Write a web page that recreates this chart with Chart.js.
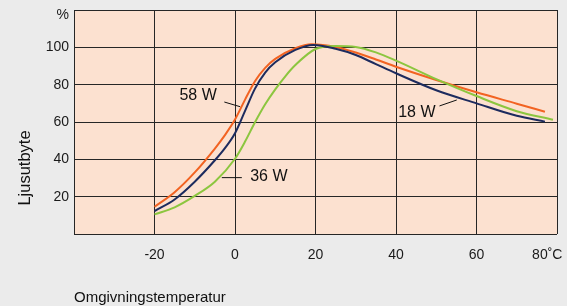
<!DOCTYPE html>
<html><head><meta charset="utf-8">
<script src="https://cdn.jsdelivr.net/npm/chart.js@4.4.1/dist/chart.umd.min.js"></script>
<style>html,body{margin:0;padding:0;background:#ebebeb;overflow:hidden}canvas{display:block}</style>
</head><body>
<canvas id="c" width="567" height="306"></canvas>
<script>
// ---- data ----
const xTicks = [-40, -20, 0, 20, 40, 60, 80];
const xTickLabels = ['', '-20', '0', '20', '40', '60', '80˚C'];
const yTicks = [0, 20, 40, 60, 80, 100, 117, 120];
const yTickLabels = ['', '20', '40', '60', '80', '100', '%', ''];
const xTitle = 'Omgivningstemperatur';
const yTitle = 'Ljusutbyte';

const temps18 = [-20, -15, -10, -5, -2.5, 0, 2.5, 5, 7.5, 10, 15, 19.5, 25, 30, 35, 40, 50, 60, 70, 77];
const vals18  = [12.3, 18.5, 28, 39.5, 46, 54, 66, 78, 86.5, 92, 98.6, 101.3, 99.2, 95.9, 91, 86.1, 77, 70, 63.3, 60.2];

const temps36 = [-20, -15, -10, -5, 0, 2.5, 5, 7.5, 10, 12.5, 15, 20, 25, 30, 35, 40, 50, 60, 70, 79];
const vals36  = [10.5, 14.3, 20.4, 28, 40.3, 49.5, 60, 69.5, 77.5, 84.5, 90.5, 99.1, 100.7, 100.2, 97.3, 92.9, 83, 73.9, 65.8, 61.2];

const temps58 = [-20, -15, -10, -5, -2.5, 0, 2.5, 5, 7.5, 10, 15, 19, 25, 30, 35, 40, 50, 60, 70, 77];
const vals58  = [14.6, 22.4, 33, 45.8, 53, 61.3, 72, 82, 89, 93.8, 99.5, 101.6, 100.2, 97.2, 93.5, 89.6, 82.5, 75.9, 69.8, 65.5];

const seriesNames = ['18 W', '36 W', '58 W'];
const seriesColors = ['#1d2b5e', '#8cc63f', '#f26322'];

// annotation labels (in data units)
const annotations = [
  { text: '58 W', x: -13.8, y: 74.2, from: [-2.65, 70.7], to: [1.27, 68.2] },
  { text: '36 W', x: 3.76,  y: 30.5, from: [-3.28, 30.2], to: [1.7, 30.2] },
  { text: '18 W', x: 40.55, y: 65.1, from: [50.8, 68.6],  to: [55.1, 71.8] }
];

// ---- chart ----
const FONT = '"Liberation Sans", Arial, sans-serif';
const toPts = (t, v) => t.map((x, i) => ({ x, y: v[i] }));

const bgPlugin = {
  id: 'bg',
  beforeDraw(chart) {
    const { ctx, chartArea: a } = chart;
    ctx.save();
    ctx.fillStyle = '#ebebeb';
    ctx.fillRect(0, 0, chart.width, chart.height);
    ctx.fillStyle = '#fce1d0';
    ctx.fillRect(a.left, a.top, a.right - a.left, a.bottom - a.top);
    ctx.restore();
  }
};

const annoPlugin = {
  id: 'anno',
  afterDatasetsDraw(chart) {
    const { ctx, scales: { x, y } } = chart;
    ctx.save();
    ctx.fillStyle = '#111';
    ctx.strokeStyle = '#111';
    ctx.lineWidth = 1;
    ctx.font = '16px ' + FONT;
    ctx.textBaseline = 'middle';
    ctx.textAlign = 'left';
    annotations.forEach(a => {
      ctx.fillText(a.text, x.getPixelForValue(a.x), y.getPixelForValue(a.y));
      ctx.beginPath();
      ctx.moveTo(x.getPixelForValue(a.from[0]), y.getPixelForValue(a.from[1]));
      ctx.lineTo(x.getPixelForValue(a.to[0]), y.getPixelForValue(a.to[1]));
      ctx.stroke();
    });
    // y axis title
    ctx.translate(25, 168);
    ctx.rotate(-Math.PI / 2);
    ctx.textAlign = 'center';
    ctx.font = '16.5px ' + FONT;
    ctx.fillText(yTitle, 0, 0);
    ctx.restore();
  }
};

new Chart(document.getElementById('c'), {
  type: 'line',
  data: {
    datasets: [
      { label: seriesNames[0], data: toPts(temps18, vals18), borderColor: seriesColors[0] },
      { label: seriesNames[1], data: toPts(temps36, vals36), borderColor: seriesColors[1] },
      { label: seriesNames[2], data: toPts(temps58, vals58), borderColor: seriesColors[2] }
    ]
  },
  options: {
    responsive: false,
    animation: false,
    devicePixelRatio: 1,
    layout: { padding: { top: 10, right: 10, left: 0, bottom: 0 } },
    elements: {
      point: { radius: 0 },
      line: { borderWidth: 2, cubicInterpolationMode: 'monotone', fill: false }
    },
    plugins: { legend: { display: false }, tooltip: { enabled: false } },
    scales: {
      x: {
        type: 'linear', min: -40, max: 80,
        afterBuildTicks: s => { s.ticks = xTicks.map(v => ({ value: v })); },
        afterFit: s => { s.height = 72; s.paddingLeft = 0; s.paddingRight = 0; },
        ticks: {
          autoSkip: false, maxRotation: 0, padding: 13, color: '#1a1a1a',
          font: { family: FONT, size: 14 },
          callback: v => { const l = xTickLabels[xTicks.indexOf(v)]; return v === 80 ? l + '     ' : l; }
        },
        grid: { color: '#262626', lineWidth: 1, drawTicks: false },
        border: { display: false },
        title: {
          display: true, text: xTitle, align: 'start', color: '#111',
          font: { family: FONT, size: 15, lineHeight: 1 }, padding: { top: 0, bottom: 1 }
        }
      },
      y: {
        type: 'linear', min: 0, max: 120,
        afterBuildTicks: s => { s.ticks = yTicks.map(v => ({ value: v })); },
        afterFit: s => { s.width = 74; s.paddingTop = 0; s.paddingBottom = 0; },
        ticks: {
          padding: 5, color: '#1a1a1a',
          font: { family: FONT, size: 14 },
          callback: v => yTickLabels[yTicks.indexOf(v)]
        },
        grid: { color: c => (c.tick && c.tick.value === 117) ? 'rgba(0,0,0,0)' : '#262626', lineWidth: 1, drawTicks: false },
        border: { display: false }
      }
    }
  },
  plugins: [bgPlugin, annoPlugin]
});
</script>
</body></html>
